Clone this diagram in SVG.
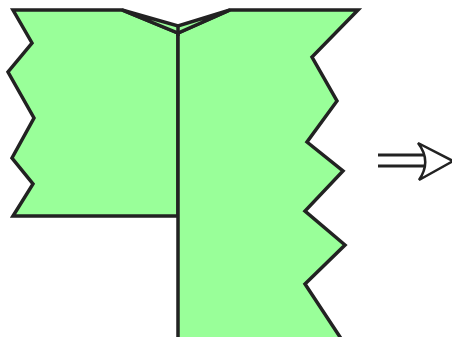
<svg xmlns="http://www.w3.org/2000/svg" width="452" height="337" viewBox="0 0 452 337">
<style>
.s{fill:#99ff99;stroke:#222;stroke-width:3.5;stroke-linejoin:miter;stroke-miterlimit:10}
.l{fill:none;stroke:#222;stroke-width:3}
.a{fill:#fff;stroke:#222;stroke-width:2.5;stroke-linejoin:miter}
</style>
<rect width="452" height="337" fill="#fff"/>
<g id="left-shape">
<polygon class="s" points="13,10 122,10 178,33 178,216 13,216 33,184 12,158 34,118 8,72 32,43"/>
</g>
<g id="right-shape">
<polygon class="s" points="178,33 230,10 358,10 312,57 337,101 307,142 343,171 305,211 345,245 305,284 342,340 178,340"/>
</g>
<g id="fold">
<polygon class="s" points="122,10 178,26 230,10 178,33"/>
<line class="s" x1="178" y1="26" x2="178" y2="36"/>
</g>
<g id="connectors">
<line class="l" x1="378" y1="155" x2="424" y2="155"/>
<line class="l" x1="378" y1="166" x2="424" y2="166"/>
<path class="a" d="M418,143 L453,161 L419,180 Q432,161 418,143 Z"/>
</g>
</svg>
